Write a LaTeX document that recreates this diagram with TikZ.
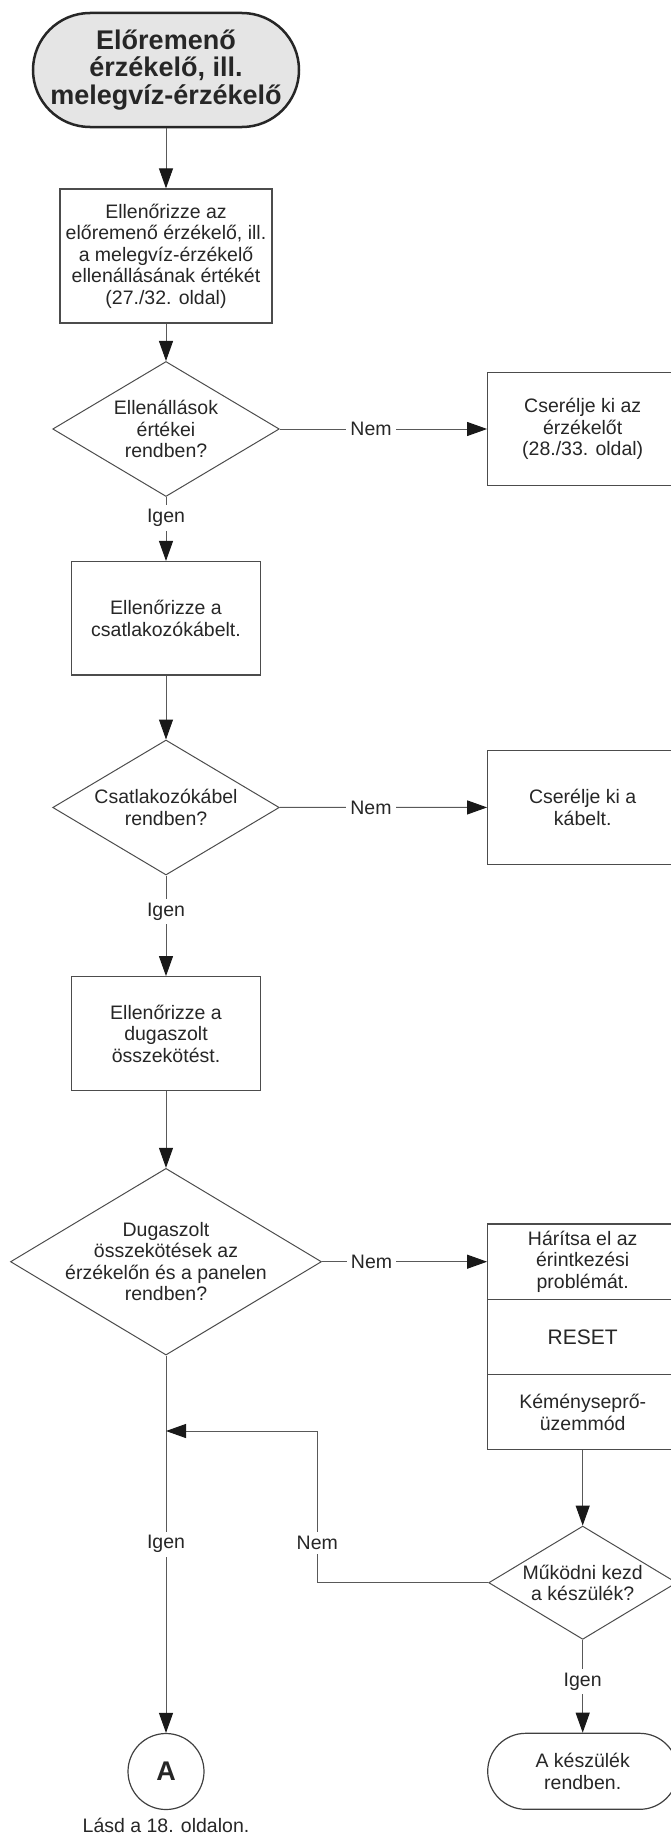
\documentclass[tikz,border=0pt]{standalone}
\usepackage{fontspec}
\setmainfont{Liberation Sans}
\usetikzlibrary{shapes.geometric}
\usetikzlibrary{arrows.meta}

\begin{document}
\begin{tikzpicture}[x=1pt,y=-1pt,
  every node/.style={text=black!85,align=center,
    font=\fontsize{19.5}{21.5}\selectfont},
  startbox/.style={draw=black!85,line width=2.5pt,fill=black!10,
    rounded corners=57pt,minimum width=266pt,minimum height=114pt,
    font=\fontsize{27}{27.5}\selectfont\bfseries},
  actbox/.style={draw=black!70,line width=1.2pt,rectangle,
    minimum width=190pt,minimum height=113.5pt,inner sep=0pt},
  decision/.style={draw=black!70,line width=1pt,diamond,
    aspect=1.67,inner sep=-6pt},
  endbox/.style={draw=black!75,line width=1.2pt,rounded corners=38pt,
    minimum width=190pt,minimum height=76pt},
  conn/.style={draw=black!65,line width=1pt,
    -{Triangle[length=20pt,width=14pt,color=black!90]}},
  answer/.style={fill=white,inner sep=4pt}]
  \useasboundingbox (0,0) rectangle (671,1836);

  \node[startbox] (start) at (166,70)
    {Előremenő\\érzékelő, ill.\\melegvíz-érzékelő};
  \node[actbox,minimum width=212pt,minimum height=134pt] (ohm) at (166,256)
    {Ellenőrizze az\\előremenő érzékelő, ill.\\a melegvíz-érzékelő\\ellenállásának értékét\\(27./32. oldal)};
  \node[decision,minimum width=226.6pt,minimum height=135pt] (okohm) at (166,429)
    {Ellenállások\\értékei\\rendben?};
  \node[actbox,minimum height=113pt] (newsens) at (582.7,429)
    {Cserélje ki az\\érzékelőt\\(28./33. oldal)};
  \node[actbox,minimum width=188.6pt] (cable) at (166,618.3)
    {Ellenőrizze a\\csatlakozókábelt.};
  \node[decision,minimum width=226.6pt,minimum height=135pt] (okcable) at (166,807.5)
    {Csatlakozókábel\\rendben?};
  \node[actbox] (newcable) at (582.7,807.4)
    {Cserélje ki a\\kábelt.};
  \node[actbox,minimum width=188.6pt,minimum height=114pt] (plug) at (166,1033.7)
    {Ellenőrizze a\\dugaszolt\\összekötést.};
  \node[decision,minimum width=311pt,minimum height=186.7pt] (okplug) at (166,1261.7)
    {Dugaszolt\\összekötések az\\érzékelőn és a panelen\\rendben?};

  \node[actbox,minimum height=75.3pt] (fix) at (582.7,1261.7)
    {Hárítsa el az\\érintkezési\\problémát.};
  \node[actbox,minimum height=75.3pt,font=\fontsize{21}{23}\selectfont] (reset) at (582.7,1336.8)
    {RESET};
  \node[actbox,minimum height=75.3pt] (chimney) at (582.7,1412.2)
    {Kéményseprő-\\üzemmód};
  \node[decision,minimum width=188pt,minimum height=113.3pt] (works) at (582.7,1582.7)
    {Működni kezd\\a készülék?};
  \node[endbox] (ok) at (582.7,1771.3)
    {A készülék\\rendben.};

  \node[draw=black!75,line width=1.2pt,circle,minimum size=76pt,inner sep=0pt,
    font=\fontsize{27}{27}\selectfont\bfseries] (A) at (166,1771.5) {A};
  \node[anchor=base,inner sep=0pt] (see) at (166,1832) {Lásd a 18. oldalon.};

  \coordinate (join) at (166,1431);
  \coordinate (bend) at (317.3,1431);

  \draw[conn]
    (start)
    --
    (ohm);
  \draw[conn]
    (ohm)
    --
    (okohm);
  \draw[conn]
    (okohm)
    -- node[answer,pos=0.44] {Nem}
    (newsens);
  \draw[conn]
    (okohm)
    -- node[answer,pos=0.33] {Igen}
    (cable);
  \draw[conn]
    (cable)
    --
    (okcable);
  \draw[conn]
    (okcable)
    -- node[answer,pos=0.44] {Nem}
    (newcable);
  \draw[conn]
    (okcable)
    -- node[answer,pos=0.36] {Igen}
    (plug);
  \draw[conn]
    (plug)
    --
    (okplug);
  \draw[conn]
    (okplug)
    -- node[answer,pos=0.3] {Nem}
    (fix);
  \draw[conn]
    (okplug)
    -- node[answer,pos=0.5] {Igen}
    (A);
  \draw[conn]
    (chimney)
    --
    (works);
  \draw[conn]
    (works)
    -- node[answer,pos=0.45] {Igen}
    (ok);
  \draw[conn]
    (works.west)
    -| node[answer,pos=0.63] {Nem}
    (bend)
    --
    (join);
\end{tikzpicture}
\end{document}
